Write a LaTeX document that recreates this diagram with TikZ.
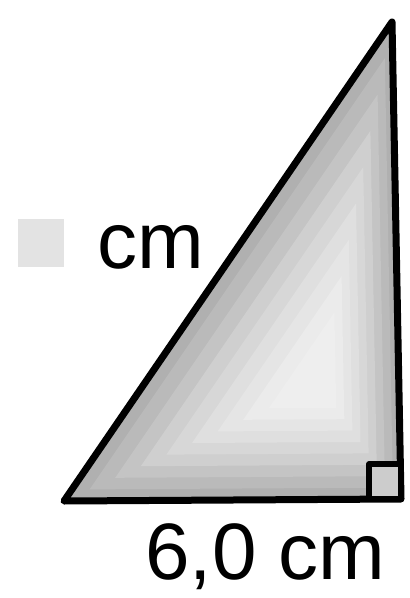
\documentclass[tikz,border=0pt]{standalone}
\usepackage{fontspec}
\setmainfont{Liberation Sans}
\usetikzlibrary{calc}

\begin{document}
\begin{tikzpicture}[
    x=0.5pt, y=-0.5pt,
    edge/.style={draw=black, line width=3.5pt, line join=round},
    lbl/.style={font=\fontsize{40}{48}\selectfont, anchor=base west, inner sep=0pt},
    blank/.style={fill=gray!22, minimum width=23pt, minimum height=24pt, inner sep=0pt}
]
\useasboundingbox (0,0) rectangle (409,598);

% corners of the triangle
\coordinate (A) at (64,501);
\coordinate (B) at (401,499);
\coordinate (C) at (392,22);
\coordinate (ctr) at (320,385);

% shading, dark at the edges and light inside
\foreach \s/\g in {1/62,0.9/54,0.8/46,0.7/38,0.6/31,0.5/25,0.4/20,0.3/16,0.2/13} {
    \fill[gray!\g] ($(ctr)!\s!(A)$) -- ($(ctr)!\s!(B)$) -- ($(ctr)!\s!(C)$) -- cycle;
}
\draw[edge] (A) -- (B) -- (C) -- cycle;

% right angle
\draw[edge, line width=2.6pt, fill=gray!40] (369,499) rectangle (401,464);

% labels
\node[blank] (box) at (41,243) {};
\node[lbl] (hyp) at (97,269) {cm};
\node[lbl] (base) at (145,579) {6,0 cm};

\end{tikzpicture}
\end{document}
